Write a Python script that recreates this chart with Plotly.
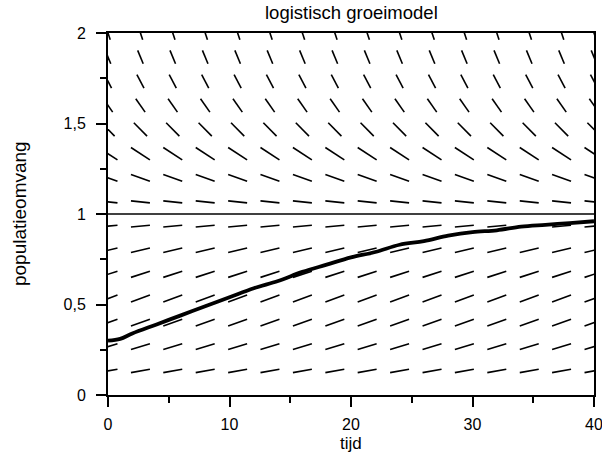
import plotly.graph_objects as go

# ---- data ----
T_GRID = [0, 2.67, 5.33, 8, 10.67, 13.33, 16, 18.67, 21.33, 24, 26.67, 29.33, 32, 34.67, 37.33, 40]
P_GRID = [0.133, 0.267, 0.4, 0.533, 0.667, 0.8, 0.933, 1.067, 1.2, 1.333, 1.467, 1.6, 1.733, 1.867, 2.0]
ROW_SLOPE = [0.012, 0.020, 0.024, 0.025, 0.022, 0.016, 0.006,
             -0.007, -0.024, -0.044, -0.068, -0.096, -0.127, -0.162, -0.2]

T_CURVE = [0, 1, 2, 4, 6, 8, 10, 12, 14, 16, 18, 20, 22, 24, 26, 28, 30, 32, 34, 36, 38, 40]
P_CURVE = [0.30, 0.31, 0.34, 0.39, 0.44, 0.49, 0.54, 0.59, 0.63, 0.68, 0.72, 0.76,
           0.79, 0.83, 0.85, 0.88, 0.90, 0.91, 0.93, 0.94, 0.95, 0.96]

EQUILIBRIUM = 1.0
X_TICKS = [0, 10, 20, 30, 40]
Y_TICKS = [0, 0.5, 1, 1.5, 2]
Y_TICKTEXT = ["0", "0,5", "1", "1,5", "2"]

# ---- style ----
HALF_DT = 0.78    # max half extent of a direction segment in t units
HALF_DP = 0.037   # max half extent in P units
FONT = "Liberation Sans, Arial, sans-serif"

sx, sy = [], []
for p, f in zip(P_GRID, ROW_SLOPE):
    dt = HALF_DT
    if abs(f) * dt > HALF_DP:
        dt = HALF_DP / abs(f)
    dp = f * dt
    for t in T_GRID:
        sx += [t - dt, t + dt, None]
        sy += [p - dp, p + dp, None]

fig = go.Figure()
fig.add_trace(go.Scatter(x=sx, y=sy, mode="lines",
                         line=dict(color="black", width=1.6),
                         hoverinfo="skip", showlegend=False))
fig.add_trace(go.Scatter(x=[T_GRID[0], T_GRID[-1]], y=[EQUILIBRIUM, EQUILIBRIUM],
                         mode="lines", line=dict(color="black", width=1.5),
                         showlegend=False))
fig.add_trace(go.Scatter(x=T_CURVE, y=P_CURVE, mode="lines",
                         line=dict(color="black", width=3.8, shape="spline"),
                         showlegend=False))

axis_common = dict(showgrid=False, zeroline=False, showline=True, linecolor="black",
                   linewidth=2, mirror=True, ticks="outside", ticklen=10,
                   tickwidth=1.5, tickcolor="black", automargin=False,
                   ticklabeloverflow="allow",
                   tickfont=dict(family=FONT, size=16, color="black"))

fig.update_xaxes(range=[0, 40], tickvals=X_TICKS, ticklabelstandoff=4,
                 minor=dict(dtick=5, ticks="outside", ticklen=6, tickwidth=1.5, tickcolor="black"),
                 **axis_common)
fig.update_yaxes(range=[0, 2], tickvals=Y_TICKS, ticktext=Y_TICKTEXT, ticklabelstandoff=7,
                 minor=dict(dtick=0.25, ticks="outside", ticklen=6, tickwidth=1.5, tickcolor="black"),
                 **axis_common)

fig.update_layout(
    width=602, height=452,
    margin=dict(l=108, r=8, t=33, b=57),
    paper_bgcolor="white", plot_bgcolor="white",
    font=dict(family=FONT, color="black"),
    annotations=[
        dict(text="logistisch groeimodel", xref="paper", yref="paper",
             x=0.5, y=1.058, xanchor="center", yanchor="middle",
             showarrow=False, font=dict(size=18.5)),
        dict(text="tijd", xref="paper", yref="paper",
             x=0.5, y=-0.134, xanchor="center", yanchor="middle",
             showarrow=False, font=dict(size=17)),
        dict(text="populatieomvang", xref="paper", yref="paper",
             x=-0.183, y=0.5, xanchor="center", yanchor="middle", textangle=-90,
             showarrow=False, font=dict(size=19)),
    ],
)

fig.write_html("out.html")
